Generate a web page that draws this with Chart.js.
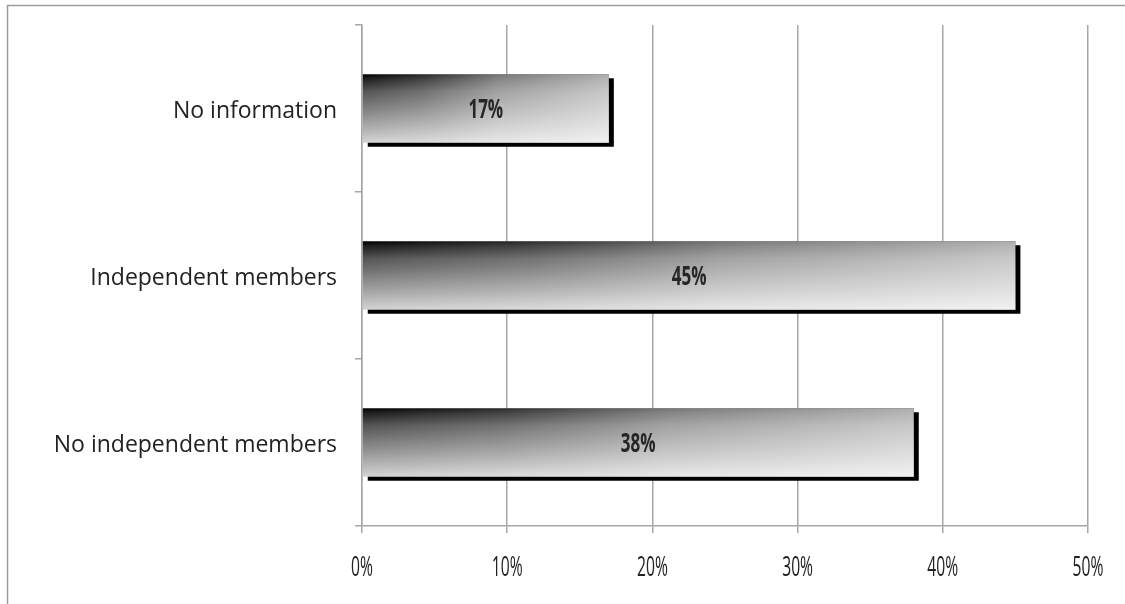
<!DOCTYPE html>
<html>
<head>
<meta charset="utf-8">
<title>Independent members</title>
<script src="https://cdn.jsdelivr.net/npm/chart.js@4/dist/chart.umd.min.js"></script>
<style>
  html, body { margin: 0; padding: 0; background: #ffffff; }
  #c { display: block; }
</style>
</head>
<body>
<canvas id="c" width="1125" height="604"></canvas>
<script>
// Categories listed from top to bottom
const categories = ['No information', 'Independent members', 'No independent members'];
// Share of companies, in percent
const shares = [17, 45, 38];
// Value axis
const axisMin = 0;
const axisMax = 50;
const axisStep = 10;

const TEXT = '#222222';
const GRID = '#a6a6a6';
const BAR_PCT = 0.41;

// Vertical shading of each bar: dark along the top edge, light along the bottom
function barGradient(c) {
  const chart = c.chart;
  const ys = chart.scales && chart.scales.y;
  if (c.type !== 'data' || !ys) return '#888888';
  const h = ys.height / categories.length * BAR_PCT;
  const yc = ys.getPixelForValue(c.dataIndex);
  if (!Number.isFinite(h) || !Number.isFinite(yc) || h <= 0) return '#888888';
  const y0 = yc - h / 2;
  const g = chart.ctx.createLinearGradient(0, y0, 0, y0 + h);
  g.addColorStop(0.00, '#000000');
  g.addColorStop(0.07, '#1e1e1e');
  g.addColorStop(0.25, '#545454');
  g.addColorStop(0.50, '#7e7e7e');
  g.addColorStop(0.75, '#a8a8a8');
  g.addColorStop(1.00, '#d4d4d4');
  return g;
}

// Hard black drop shadow under each bar
const barShadow = {
  id: 'barShadow',
  beforeDatasetsDraw(chart) {
    const ctx = chart.ctx;
    ctx.save();
    ctx.shadowColor = '#000000';
    ctx.shadowOffsetX = 5;
    ctx.shadowOffsetY = 4;
    ctx.shadowBlur = 0;
  },
  afterDatasetsDraw(chart) {
    chart.ctx.restore();
  }
};

// Narrow text drawn with a horizontal squeeze
function squeezedText(ctx, text, x, y, squeeze) {
  ctx.save();
  ctx.translate(x, y);
  ctx.scale(squeeze, 1);
  ctx.fillText(text, 0, 0);
  ctx.restore();
}

// Light sheen fading in towards the end of each bar, then value labels and axis ticks
const labelsPlugin = {
  id: 'labelsPlugin',
  afterDatasetsDraw(chart) {
    const ctx = chart.ctx;
    const meta = chart.getDatasetMeta(0);
    ctx.save();
    meta.data.forEach((bar) => {
      const left = Math.min(bar.base, bar.x);
      const right = Math.max(bar.base, bar.x);
      const top = bar.y - bar.height / 2;
      const sheen = ctx.createLinearGradient(left, 0, right, 0);
      sheen.addColorStop(0.00, 'rgba(255,255,255,0)');
      sheen.addColorStop(0.25, 'rgba(255,255,255,0.17)');
      sheen.addColorStop(0.55, 'rgba(255,255,255,0.46)');
      sheen.addColorStop(1.00, 'rgba(255,255,255,0.68)');
      ctx.fillStyle = sheen;
      ctx.fillRect(left, top, right - left, bar.height);
    });
    ctx.fillStyle = '#262626';
    ctx.textAlign = 'center';
    ctx.textBaseline = 'middle';
    ctx.font = 'bold 27px "Open Sans"';
    meta.data.forEach((bar, i) => {
      const cx = (bar.x + bar.base) / 2;
      squeezedText(ctx, shares[i] + '%', cx, bar.y + 2, 0.63);
    });
    ctx.restore();
  },
  afterDraw(chart) {
    const ctx = chart.ctx;
    const xs = chart.scales.x;
    ctx.save();
    ctx.fillStyle = TEXT;
    ctx.textAlign = 'center';
    ctx.textBaseline = 'middle';
    ctx.font = '27px "Open Sans"';
    xs.ticks.forEach((t, i) => {
      squeezedText(ctx, t.value + '%', xs.getPixelForTick(i), 568, 0.58);
    });
    ctx.restore();
  }
};

// Frame around the whole chart
const frame = {
  id: 'frame',
  beforeDraw(chart) {
    const ctx = chart.ctx;
    ctx.save();
    ctx.fillStyle = '#ffffff';
    ctx.fillRect(0, 0, chart.width, chart.height);
    ctx.strokeStyle = '#9c9c9c';
    ctx.lineWidth = 1.5;
    ctx.beginPath();
    ctx.moveTo(7.5, chart.height);
    ctx.lineTo(7.5, 5.5);
    ctx.lineTo(chart.width, 5.5);
    ctx.stroke();
    ctx.restore();
  }
};

new Chart(document.getElementById('c'), {
  type: 'bar',
  data: {
    labels: categories,
    datasets: [{
      data: shares,
      backgroundColor: barGradient,
      borderWidth: 0,
      barPercentage: BAR_PCT,
      categoryPercentage: 1
    }]
  },
  options: {
    indexAxis: 'y',
    responsive: false,
    animation: false,
    devicePixelRatio: 1,
    layout: { padding: { top: 25, right: 37, left: 0, bottom: 0 } },
    plugins: {
      legend: { display: false },
      tooltip: { enabled: false }
    },
    scales: {
      x: {
        min: axisMin,
        max: axisMax,
        ticks: {
          stepSize: axisStep,
          color: 'transparent',
          font: { size: 12 },
          callback: v => v + '%'
        },
        grid: {
          color: GRID,
          lineWidth: 1.5,
          drawTicks: true,
          tickLength: 7,
          tickColor: GRID
        },
        border: { display: true, color: GRID, width: 1.5 },
        afterFit(scale) {
          scale.height = 78;
          scale.paddingLeft = 0;
          scale.paddingRight = 0;
        }
      },
      y: {
        ticks: {
          color: TEXT,
          padding: 18,
          labelOffset: 3,
          font: { family: '"Open Sans"', size: 23 }
        },
        grid: {
          offset: true,
          drawOnChartArea: false,
          drawTicks: true,
          tickLength: 7,
          color: GRID,
          lineWidth: 1.5
        },
        border: { display: true, color: GRID, width: 1.5 },
        afterFit(scale) {
          scale.width = 362;
          scale.paddingTop = 0;
          scale.paddingBottom = 0;
        }
      }
    }
  },
  plugins: [frame, barShadow, labelsPlugin]
});
</script>
</body>
</html>
